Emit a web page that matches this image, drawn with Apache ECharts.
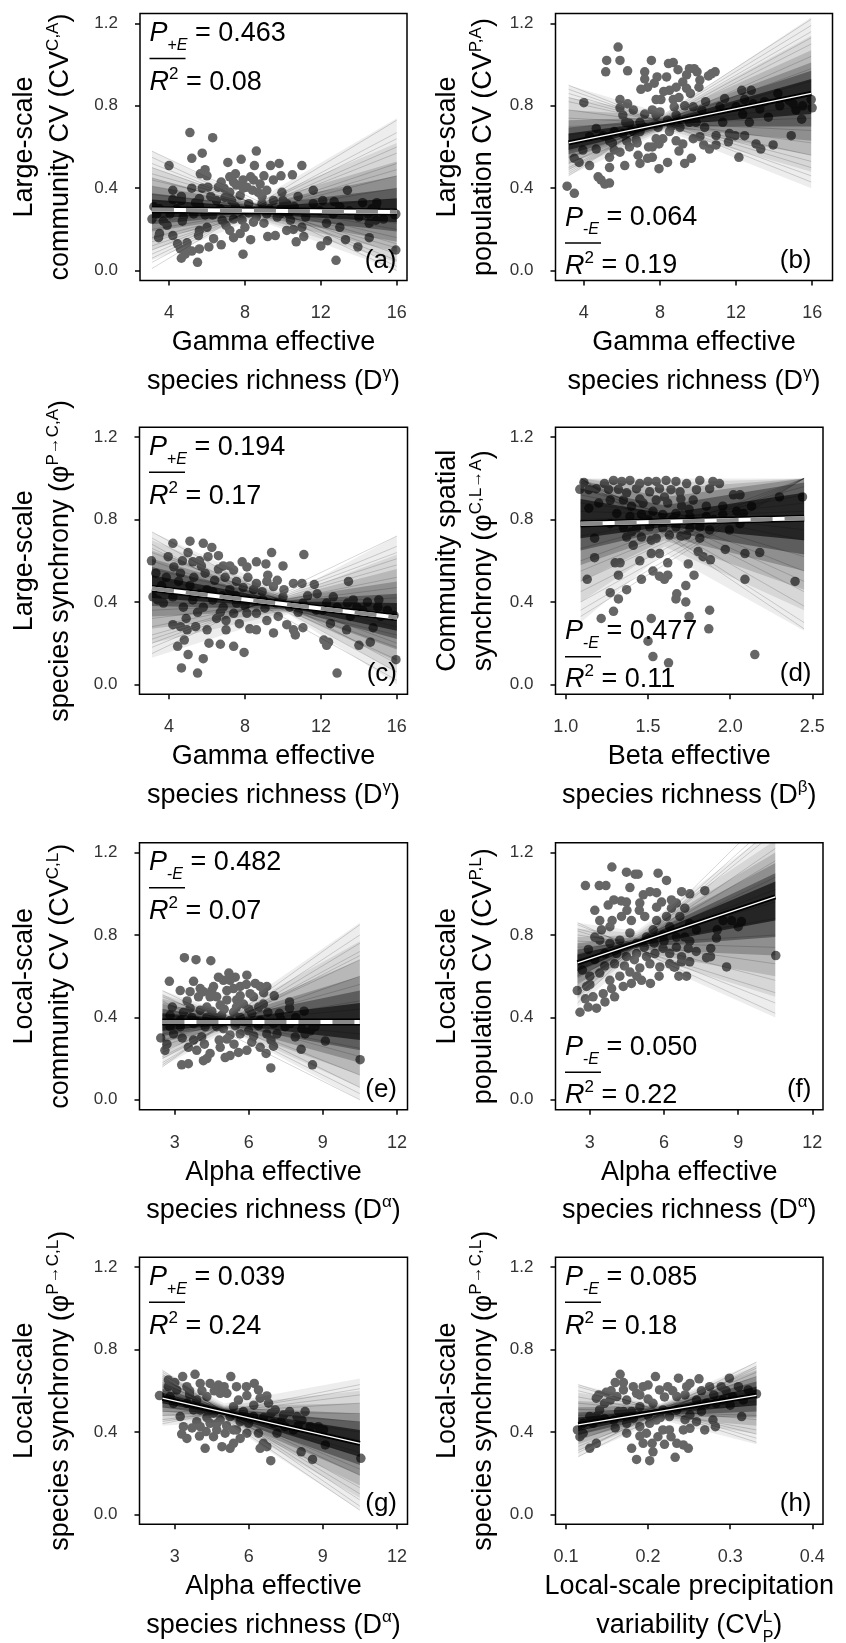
<!DOCTYPE html>
<html><head><meta charset="utf-8">
<script src="https://cdn.jsdelivr.net/npm/echarts@6/dist/echarts.min.js"></script>
<style>html,body{margin:0;padding:0;background:#fff}#c{width:846px;height:1643px}</style>
</head><body><div id="c"></div>
<script>
// ---------------- DATA ----------------
const ticksGamma = [4, 8, 12, 16];
const ticksBeta = [1.0, 1.5, 2.0, 2.5];
const ticksAlpha = [3, 6, 9, 12];
const ticksPrecip = [0.1, 0.2, 0.3, 0.4];
const yTicks = [0, 0.4, 0.8, 1.2];

const ptsA = [[5.1,0.67],[6.3,0.645],[4.0,0.51],[5.2,0.545],[5.75,0.57],[5.9,0.49],[5.75,0.40],[4.2,0.39],[5.2,0.40],[7.1,0.525],[7.8,0.54],[8.6,0.58],[8.5,0.51],[9.35,0.51],[9.8,0.52],[9.9,0.46],[10.5,0.465],[11.0,0.51],[11.6,0.39],[13.4,0.39],[12.7,0.335],[14.2,0.33],[14.95,0.33],[14.7,0.30],[15.9,0.27],[14.9,0.245],[14.55,0.23],[14.55,0.16],[13.95,0.115],[15.95,0.10],[12.8,0.05],[12.0,0.12],[12.35,0.145],[13.3,0.15],[13.0,0.21],[12.3,0.23],[11.1,0.165],[10.7,0.14],[10.55,0.2],[11.0,0.21],[10.4,0.245],[9.6,0.17],[9.2,0.165],[8.3,0.15],[7.9,0.08],[7.2,0.195],[7.4,0.16],[7.75,0.18],[8.0,0.21],[6.75,0.125],[6.35,0.155],[6.1,0.115],[5.6,0.105],[5.5,0.04],[4.65,0.06],[4.85,0.08],[5.0,0.10],[5.2,0.095],[4.6,0.105],[4.45,0.13],[4.95,0.135],[4.2,0.17],[3.45,0.16],[3.5,0.18],[3.1,0.25],[3.7,0.24],[4.7,0.24],[3.5,0.30],[4.2,0.345],[4.65,0.36],[5.6,0.35],[6.05,0.405],[6.6,0.405],[6.75,0.43],[7.2,0.455],[7.4,0.43],[7.55,0.415],[7.9,0.44],[8.1,0.405],[8.45,0.44],[8.8,0.42],[8.7,0.38],[9.15,0.39],[7.75,0.365],[7.2,0.38],[6.95,0.355],[6.5,0.34],[9.95,0.38],[10.0,0.34],[10.2,0.325],[9.5,0.34],[8.9,0.325],[8.2,0.325],[7.5,0.31],[6.7,0.30],[5.6,0.315],[4.65,0.34],[11.6,0.325],[11.95,0.29],[12.65,0.275],[13.5,0.29],[11.2,0.26],[9.7,0.26],[9.15,0.275],[8.6,0.26],[8.45,0.235],[7.85,0.245],[7.4,0.25],[6.8,0.245],[6.0,0.21],[5.6,0.195],[5.55,0.17],[5.3,0.275],[4.75,0.26],[4.05,0.275],[3.35,0.275],[3.2,0.31],[10.2,0.195],[9.85,0.275],[10.3,0.275],[14.5,0.275],[15.3,0.25],[14.0,0.26],[14.9,0.31],[15.95,0.275],[6.0,0.46],[5.65,0.47],[7.5,0.47],[8.3,0.455],[9.0,0.46],[9.5,0.44],[5.4,0.33],[6.2,0.36],[6.9,0.40],[7.3,0.34],[7.9,0.40],[8.4,0.39],[8.9,0.36],[9.3,0.30],[9.9,0.30],[10.6,0.31],[6.3,0.27],[7.0,0.22],[8.2,0.28],[9.0,0.23],[10.8,0.36],[4.4,0.30],[3.9,0.22],[5.9,0.27],[12.1,0.34],[13.0,0.31]];
const ptsB = [[3.12,0.41],[3.5,0.375],[4.0,0.815],[5.2,1.02],[5.8,1.085],[5.9,1.02],[5.15,0.965],[6.3,0.97],[5.9,0.83],[5.9,0.79],[6.05,0.755],[6.3,0.81],[7.2,0.965],[7.55,1.02],[7.2,0.93],[7.35,0.89],[7.85,0.94],[8.35,0.94],[8.45,1.005],[8.7,1.01],[8.95,0.975],[9.4,0.95],[9.55,0.98],[9.8,0.98],[9.95,0.965],[10.1,0.925],[9.2,0.915],[8.85,0.89],[8.5,0.875],[9.4,0.885],[10.05,0.89],[10.55,0.945],[10.9,0.965],[10.7,0.955],[8.7,0.83],[8.05,0.83],[7.8,0.83],[7.6,0.78],[8.75,0.795],[9.3,0.8],[9.75,0.795],[10.2,0.78],[8.4,0.73],[8.85,0.755],[7.2,0.76],[6.95,0.72],[6.6,0.675],[6.25,0.63],[5.9,0.575],[5.35,0.55],[5.35,0.50],[6.15,0.51],[6.85,0.56],[6.95,0.52],[7.6,0.55],[7.35,0.545],[7.95,0.495],[8.4,0.525],[9.3,0.52],[9.65,0.545],[7.4,0.6],[7.6,0.6],[7.95,0.615],[8.15,0.64],[10.1,0.65],[10.35,0.695],[10.6,0.59],[10.95,0.61],[10.95,0.655],[11.65,0.665],[11.6,0.625],[11.95,0.655],[12.45,0.655],[12.15,0.55],[13.05,0.615],[13.3,0.59],[13.95,0.61],[14.9,0.655],[15.45,0.735],[15.95,0.83],[16.0,0.79],[15.5,0.8],[14.8,0.825],[14.2,0.86],[13.7,0.745],[13.25,0.785],[12.8,0.875],[12.3,0.875],[12.45,0.83],[12.0,0.795],[11.4,0.835],[11.15,0.795],[12.35,0.76],[12.9,0.81],[14.3,0.80],[15.0,0.81],[15.15,0.78],[3.95,0.585],[3.75,0.525],[4.3,0.51],[4.75,0.455],[4.9,0.44],[5.1,0.42],[5.35,0.425],[4.65,0.69],[4.3,0.65],[5.0,0.655],[5.35,0.63],[5.6,0.675],[6.05,0.665],[6.4,0.715],[6.95,0.675],[7.9,0.695],[8.5,0.675],[9.05,0.695],[9.55,0.72],[9.75,0.64],[9.2,0.615],[8.85,0.63],[5.6,0.585],[6.4,0.6],[6.75,0.635],[7.8,0.755],[4.65,0.59],[3.5,0.545],[7.0,0.88],[7.7,0.91],[8.2,0.87],[9.0,0.84],[9.6,0.86],[8.0,0.77],[8.6,0.70],[9.9,0.72],[10.4,0.82],[7.1,0.70],[6.6,0.78],[6.2,0.72],[5.5,0.62],[6.8,0.62],[7.8,0.64],[9.0,0.58],[10.3,0.61],[11.3,0.72],[12.7,0.72],[13.5,0.82]];
const ptsC = [[3.07,0.6],[3.95,0.62],[4.2,0.685],[5.1,0.695],[5.8,0.685],[6.25,0.665],[5.0,0.64],[5.25,0.595],[5.7,0.575],[6.05,0.62],[6.6,0.625],[6.85,0.575],[7.2,0.575],[7.4,0.555],[7.85,0.595],[8.1,0.57],[8.6,0.595],[9.1,0.585],[9.4,0.64],[10.0,0.575],[11.1,0.63],[10.55,0.49],[11.0,0.49],[11.65,0.485],[13.45,0.5],[15.05,0.41],[15.85,0.335],[15.95,0.12],[12.85,0.055],[14.0,0.19],[14.6,0.205],[14.75,0.275],[13.35,0.265],[12.5,0.295],[12.15,0.215],[12.4,0.205],[12.3,0.19],[11.05,0.275],[10.65,0.24],[10.55,0.265],[10.2,0.29],[9.5,0.25],[9.75,0.33],[9.15,0.31],[8.6,0.265],[8.25,0.27],[7.7,0.295],[7.95,0.155],[7.4,0.185],[6.7,0.195],[6.1,0.2],[5.8,0.125],[5.0,0.145],[4.8,0.215],[4.45,0.185],[4.65,0.08],[5.5,0.055],[5.4,0.28],[4.95,0.265],[4.6,0.28],[4.2,0.29],[4.9,0.32],[6.0,0.265],[6.5,0.32],[7.0,0.31],[7.0,0.265],[7.4,0.345],[8.1,0.345],[8.6,0.345],[9.05,0.37],[3.15,0.425],[3.4,0.41],[3.7,0.395],[4.2,0.425],[4.75,0.375],[5.25,0.41],[5.8,0.375],[6.3,0.41],[6.85,0.375],[7.55,0.395],[8.1,0.41],[8.95,0.41],[9.65,0.395],[10.0,0.425],[10.35,0.375],[11.05,0.395],[11.75,0.36],[12.3,0.395],[12.85,0.375],[13.4,0.395],[13.9,0.375],[14.45,0.40],[15.0,0.375],[15.5,0.36],[15.15,0.33],[13.55,0.33],[3.85,0.52],[3.3,0.54],[4.25,0.57],[4.6,0.54],[5.3,0.52],[5.9,0.54],[6.4,0.505],[6.95,0.52],[7.55,0.5],[8.15,0.52],[8.6,0.49],[9.15,0.5],[9.5,0.475],[9.7,0.505],[10.05,0.46],[8.45,0.46],[7.2,0.46],[6.0,0.46],[11.8,0.44],[12.65,0.425],[13.7,0.41],[4.5,0.5],[5.1,0.48],[5.6,0.44],[6.3,0.45],[6.8,0.43],[7.5,0.43],[7.9,0.47],[8.9,0.45],[9.2,0.53],[6.6,0.56],[5.6,0.60],[4.7,0.6],[3.6,0.48],[5.5,0.35],[6.7,0.35],[8.0,0.38],[11.3,0.43],[12.1,0.36],[14.2,0.36],[10.8,0.35]];
const ptsD = [[1.085,0.947],[1.11,0.98],[1.14,0.945],[1.14,0.855],[1.175,0.71],[1.175,0.615],[1.13,0.51],[1.185,0.95],[1.235,0.975],[1.29,0.99],[1.34,0.985],[1.39,0.99],[1.45,0.975],[1.5,0.985],[1.55,0.985],[1.61,0.99],[1.67,0.985],[1.735,0.975],[1.815,0.99],[1.895,0.985],[1.935,0.975],[1.26,0.947],[1.32,0.947],[1.37,0.93],[1.43,0.95],[1.51,0.935],[1.57,0.95],[1.64,0.945],[1.695,0.935],[1.795,0.945],[1.875,0.95],[2.02,0.92],[2.06,0.92],[2.3,0.91],[2.44,0.91],[2.13,0.865],[1.27,0.895],[1.35,0.895],[1.4,0.865],[1.47,0.88],[1.55,0.895],[1.62,0.88],[1.705,0.865],[1.775,0.895],[1.855,0.865],[1.955,0.865],[2.04,0.84],[1.31,0.83],[1.39,0.815],[1.46,0.825],[1.53,0.84],[1.59,0.825],[1.67,0.83],[1.755,0.815],[1.855,0.815],[1.955,0.825],[2.08,0.83],[1.27,0.78],[1.35,0.76],[1.43,0.76],[1.51,0.765],[1.59,0.76],[1.67,0.765],[1.755,0.76],[1.815,0.765],[1.875,0.75],[1.37,0.715],[1.46,0.715],[1.55,0.71],[1.63,0.725],[1.735,0.725],[1.815,0.71],[1.41,0.675],[1.52,0.7],[1.97,0.655],[2.09,0.635],[2.18,0.64],[1.3,0.59],[1.33,0.59],[1.32,0.53],[1.37,0.46],[1.45,0.6],[1.52,0.635],[1.57,0.635],[1.62,0.59],[1.805,0.645],[1.835,0.62],[1.88,0.605],[1.745,0.585],[1.53,0.55],[1.57,0.525],[1.62,0.53],[1.6,0.51],[1.46,0.51],[1.78,0.53],[1.73,0.48],[1.675,0.44],[1.67,0.415],[1.73,0.4],[1.75,0.33],[1.875,0.36],[1.87,0.27],[1.52,0.32],[1.5,0.21],[1.53,0.135],[1.625,0.105],[1.27,0.445],[1.32,0.415],[1.29,0.355],[1.215,0.32],[2.09,0.51],[2.395,0.5],[2.15,0.145],[1.995,0.75],[2.06,0.78],[1.45,0.90],[1.6,0.91],[1.7,0.9],[1.75,0.85],[1.65,0.8],[1.5,0.8],[1.4,0.74],[1.7,0.72],[1.9,0.8],[1.2,0.88]];
const ptsE = [[2.43,0.30],[2.78,0.575],[2.6,0.24],[2.68,0.27],[2.81,0.41],[3.28,0.17],[3.55,0.175],[3.39,0.69],[3.86,0.68],[4.46,0.675],[3.22,0.53],[3.62,0.525],[3.76,0.575],[3.96,0.5],[4.16,0.525],[4.43,0.5],[4.57,0.55],[4.77,0.595],[4.97,0.58],[5.19,0.615],[5.45,0.595],[5.92,0.605],[6.26,0.565],[6.46,0.55],[6.73,0.55],[6.05,0.515],[6.19,0.5],[7.03,0.505],[7.65,0.475],[7.65,0.445],[7.24,0.42],[6.77,0.425],[6.59,0.465],[5.78,0.465],[5.51,0.485],[5.11,0.485],[4.84,0.46],[4.3,0.45],[4.03,0.435],[3.62,0.445],[3.35,0.425],[4.64,0.4],[5.24,0.385],[5.65,0.4],[6.12,0.42],[6.46,0.385],[5.38,0.425],[8.24,0.43],[7.88,0.305],[8.15,0.345],[8.28,0.32],[8.49,0.335],[8.69,0.355],[9.1,0.285],[8.12,0.245],[8.58,0.17],[10.51,0.195],[6.89,0.155],[7.0,0.26],[6.7,0.225],[6.46,0.255],[6.12,0.28],[5.92,0.24],[5.58,0.23],[5.24,0.215],[5.04,0.205],[4.84,0.255],[4.43,0.225],[4.16,0.19],[4.3,0.2],[3.89,0.24],[3.55,0.255],[3.76,0.29],[4.09,0.305],[5.11,0.295],[5.24,0.315],[5.65,0.32],[5.99,0.335],[6.73,0.32],[7.14,0.32],[7.47,0.355],[3.22,0.355],[2.95,0.32],[2.81,0.355],[3.22,0.385],[3.76,0.37],[4.23,0.355],[4.7,0.355],[4.97,0.345],[5.45,0.36],[6.39,0.36],[7.0,0.37],[7.68,0.37],[8.62,0.37],[4.3,0.4],[3.69,0.4],[4.7,0.5],[5.11,0.53],[5.38,0.54],[5.65,0.55],[5.24,0.58],[4.03,0.54],[5.65,0.505],[3.9,0.38],[4.5,0.43],[5.0,0.44],[5.5,0.45],[6.0,0.44],[6.4,0.45],[4.9,0.41],[3.3,0.30],[4.2,0.27],[4.8,0.29],[5.4,0.27],[6.2,0.31],[6.9,0.29],[7.3,0.39],[7.9,0.40],[4.5,0.53],[5.9,0.56],[6.6,0.52],[3.5,0.48],[2.9,0.45]];
const ptsF = [[2.49,0.53],[2.6,0.425],[2.82,0.49],[2.82,1.04],[3.38,1.04],[3.65,1.04],[3.89,1.13],[4.48,1.105],[4.83,1.095],[4.95,1.095],[5.76,1.1],[6.1,1.065],[4.62,1.03],[3.2,0.92],[3.74,0.945],[3.97,0.97],[4.27,0.965],[4.48,0.96],[5.16,0.995],[5.43,1.01],[5.7,1.005],[5.02,0.955],[5.7,0.935],[6.3,0.97],[6.71,1.01],[7.04,1.0],[7.65,1.015],[6.5,0.955],[6.84,0.93],[3.4,0.87],[3.81,0.84],[3.47,0.825],[4.28,0.89],[4.68,0.87],[5.22,0.89],[5.7,0.87],[6.1,0.89],[6.64,0.89],[7.04,0.855],[3.4,0.775],[3.2,0.79],[3.81,0.76],[4.21,0.775],[4.62,0.81],[4.89,0.76],[5.29,0.79],[5.56,0.825],[5.96,0.8],[6.23,0.84],[6.5,0.79],[6.84,0.79],[6.98,0.735],[6.71,0.695],[6.23,0.71],[5.96,0.735],[5.63,0.71],[5.29,0.695],[4.89,0.71],[4.48,0.695],[4.08,0.71],[3.61,0.71],[2.94,0.73],[2.7,0.63],[3.0,0.6],[3.4,0.615],[3.81,0.58],[4.21,0.6],[4.62,0.62],[5.02,0.64],[5.43,0.66],[5.83,0.645],[6.23,0.66],[6.44,0.645],[6.71,0.67],[7.04,0.67],[6.91,0.6],[6.4,0.645],[5.45,0.565],[5.09,0.58],[4.68,0.565],[4.35,0.55],[3.88,0.54],[3.54,0.515],[3.13,0.5],[2.93,0.45],[3.27,0.445],[3.61,0.475],[2.87,0.55],[7.72,0.69],[7.89,0.735],[8.15,0.825],[8.12,0.785],[8.39,0.87],[8.73,0.87],[9.0,0.84],[9.13,0.865],[8.53,0.645],[7.88,0.695],[10.52,0.7],[7.04,0.77],[7.31,0.825],[3.6,0.65],[4.0,0.66],[4.4,0.65],[4.8,0.68],[5.2,0.74],[5.6,0.76],[6.0,0.77],[6.5,0.74],[3.9,0.87],[4.5,0.92],[5.0,0.92],[5.9,0.96],[6.3,0.93],[3.2,0.68],[3.0,0.56],[4.0,0.50],[4.9,0.60],[5.8,0.60],[6.6,0.60],[7.3,0.72]];
const ptsG = [[2.38,0.577],[2.74,0.653],[3.32,0.669],[3.82,0.68],[2.74,0.62],[3.08,0.604],[3.49,0.62],[4.03,0.636],[4.43,0.636],[4.77,0.628],[5.27,0.669],[6.22,0.636],[6.39,0.604],[5.92,0.577],[6.73,0.575],[6.8,0.54],[6.46,0.564],[5.58,0.555],[5.11,0.588],[4.84,0.588],[4.3,0.572],[3.89,0.555],[3.49,0.539],[3.22,0.475],[3.35,0.426],[3.28,0.39],[3.49,0.369],[3.89,0.45],[4.03,0.426],[4.27,0.402],[4.23,0.321],[4.57,0.377],[4.91,0.329],[5.24,0.321],[5.38,0.345],[5.65,0.369],[5.92,0.394],[5.99,0.442],[5.38,0.41],[5.04,0.394],[4.7,0.41],[4.43,0.442],[4.84,0.458],[5.24,0.475],[5.65,0.45],[4.57,0.491],[4.3,0.507],[5.38,0.523],[5.78,0.499],[6.19,0.475],[6.39,0.394],[6.59,0.345],[6.46,0.321],[6.73,0.329],[6.89,0.261],[7.0,0.442],[7.07,0.507],[7.41,0.483],[7.65,0.499],[7.95,0.475],[8.28,0.499],[8.15,0.458],[8.49,0.426],[8.82,0.426],[9.03,0.41],[8.12,0.304],[8.58,0.267],[9.1,0.337],[10.54,0.272],[7.14,0.394],[7.47,0.426],[7.81,0.41],[2.81,0.572],[2.95,0.539],[3.76,0.507],[4.03,0.507],[3.0,0.64],[3.6,0.60],[4.1,0.60],[4.6,0.60],[5.0,0.62],[5.5,0.62],[5.9,0.62],[4.3,0.47],[4.7,0.44],[5.1,0.43],[5.5,0.41],[5.9,0.47],[3.7,0.42],[4.0,0.38],[3.6,0.58],[6.6,0.47],[7.3,0.45],[8.0,0.43],[6.2,0.53],[6.9,0.49]];
const ptsH = [[0.114,0.41],[0.117,0.377],[0.121,0.394],[0.129,0.321],[0.137,0.345],[0.133,0.442],[0.137,0.475],[0.141,0.507],[0.137,0.564],[0.149,0.593],[0.16,0.64],[0.166,0.68],[0.154,0.555],[0.162,0.572],[0.17,0.604],[0.174,0.555],[0.182,0.62],[0.186,0.588],[0.194,0.62],[0.2,0.628],[0.209,0.669],[0.214,0.604],[0.224,0.62],[0.237,0.661],[0.247,0.62],[0.251,0.636],[0.262,0.658],[0.275,0.62],[0.289,0.62],[0.299,0.661],[0.31,0.62],[0.322,0.604],[0.332,0.585],[0.314,0.475],[0.147,0.466],[0.158,0.458],[0.164,0.499],[0.174,0.442],[0.174,0.394],[0.18,0.321],[0.186,0.267],[0.202,0.261],[0.194,0.345],[0.206,0.304],[0.205,0.345],[0.212,0.377],[0.198,0.394],[0.19,0.426],[0.182,0.466],[0.202,0.442],[0.21,0.458],[0.218,0.41],[0.226,0.41],[0.226,0.475],[0.228,0.377],[0.235,0.345],[0.233,0.277],[0.243,0.337],[0.249,0.321],[0.243,0.41],[0.251,0.418],[0.259,0.45],[0.251,0.483],[0.235,0.507],[0.218,0.507],[0.206,0.539],[0.19,0.523],[0.269,0.41],[0.279,0.458],[0.282,0.426],[0.271,0.539],[0.283,0.539],[0.291,0.555],[0.303,0.572],[0.316,0.555],[0.147,0.539],[0.17,0.499],[0.235,0.572],[0.259,0.555],[0.121,0.442],[0.129,0.475],[0.14,0.58],[0.155,0.6],[0.17,0.64],[0.19,0.58],[0.2,0.56],[0.22,0.57],[0.23,0.60],[0.245,0.58],[0.265,0.6],[0.28,0.58],[0.295,0.6],[0.3,0.53],[0.18,0.5],[0.2,0.48],[0.215,0.47],[0.245,0.46],[0.265,0.5],[0.19,0.38],[0.22,0.34],[0.16,0.42]];

// posterior mean regression lines [[x0,y0],[x1,y1]]
const meanA = [[3.1,0.296],[16.0,0.285]];
const meanB = [[3.2,0.62],[15.95,0.86]];
const meanC = [[3.1,0.466],[16.0,0.325]];
const meanD = [[1.09,0.78],[2.45,0.806]];
const meanE = [[2.5,0.378],[10.5,0.378]];
const meanF = [[2.5,0.665],[10.5,0.985]];
const meanG = [[2.5,0.564],[10.5,0.345]];
const meanH = [[0.115,0.435],[0.332,0.578]];

// x positions of posterior fan: [left, pivot, right]
const fanXA = [3.1, 8.5, 16.0];
const fanXB = [3.2, 8.3, 15.95];
const fanXC = [3.1, 10.3, 16.0];
const fanXD = [1.09, 1.6, 2.45];
const fanXE = [2.5, 5.2, 10.5];
const fanXF = [2.5, 4.9, 10.5];
const fanXG = [2.5, 5.0, 10.5];
const fanXH = [0.115, 0.215, 0.332];

// posterior envelopes (outer to inner): [leftLo, leftHi, pivotLo, pivotHi, rightLo, rightHi]
const bandA = [[0.05,0.58,0.25,0.335,0.0,0.74],[0.10,0.50,0.255,0.33,0.04,0.62],[0.15,0.45,0.26,0.325,0.09,0.53],[0.19,0.41,0.265,0.32,0.14,0.46],[0.225,0.375,0.27,0.315,0.19,0.40],[0.255,0.345,0.275,0.31,0.235,0.35]];
const bandB = [[0.46,0.90,0.68,0.76,0.40,1.23],[0.49,0.84,0.685,0.755,0.48,1.14],[0.52,0.78,0.69,0.75,0.56,1.07],[0.545,0.73,0.695,0.745,0.63,1.01],[0.565,0.695,0.70,0.74,0.70,0.97],[0.585,0.665,0.705,0.73,0.76,0.93]];
const bandC = [[0.13,0.74,0.34,0.44,0.0,0.72],[0.20,0.70,0.35,0.43,0.06,0.63],[0.27,0.65,0.355,0.425,0.11,0.56],[0.33,0.61,0.36,0.42,0.17,0.50],[0.38,0.57,0.365,0.41,0.22,0.44],[0.42,0.53,0.372,0.402,0.26,0.395]];
const bandD = [[0.30,1.0,0.64,1.0,0.26,1.0],[0.40,1.0,0.67,0.98,0.36,1.0],[0.50,1.0,0.70,0.95,0.46,1.0],[0.58,0.99,0.72,0.91,0.55,1.0],[0.65,0.95,0.745,0.87,0.63,0.98],[0.71,0.90,0.765,0.83,0.70,0.93]];
const bandE = [[0.16,0.53,0.34,0.42,0.0,0.86],[0.20,0.51,0.345,0.415,0.06,0.77],[0.24,0.49,0.35,0.41,0.12,0.68],[0.28,0.465,0.355,0.405,0.18,0.60],[0.31,0.44,0.36,0.40,0.24,0.53],[0.335,0.42,0.365,0.392,0.29,0.47]];
const bandF = [[0.45,0.86,0.70,0.82,0.40,1.32],[0.49,0.83,0.71,0.81,0.50,1.26],[0.53,0.79,0.72,0.80,0.60,1.20],[0.565,0.76,0.73,0.79,0.70,1.15],[0.595,0.73,0.74,0.78,0.79,1.10],[0.625,0.705,0.745,0.775,0.87,1.06]];
const bandG = [[0.43,0.70,0.45,0.54,0.02,0.66],[0.455,0.68,0.46,0.53,0.08,0.60],[0.48,0.655,0.465,0.525,0.14,0.54],[0.50,0.635,0.47,0.52,0.19,0.49],[0.52,0.61,0.475,0.515,0.24,0.45],[0.54,0.59,0.482,0.51,0.28,0.41]];
const bandH = [[0.28,0.63,0.46,0.54,0.34,0.74],[0.31,0.59,0.465,0.535,0.39,0.72],[0.34,0.55,0.47,0.53,0.43,0.70],[0.365,0.52,0.475,0.525,0.47,0.67],[0.385,0.495,0.48,0.52,0.50,0.645],[0.405,0.47,0.488,0.512,0.53,0.62]];

// individual posterior draws: [yLeft, yRight]
const linesA = [[0.55,0.00],[0.50,0.08],[0.47,0.13],[0.44,0.16],[0.41,0.20],[0.37,0.23],[0.34,0.26],[0.30,0.29],[0.24,0.35],[0.20,0.40],[0.16,0.46],[0.12,0.52],[0.08,0.60],[0.04,0.67],[0.01,0.73],[0.58,0.02],[0.52,0.05],[0.45,0.11],[0.14,0.49],[0.10,0.57],[0.06,0.64]];
const linesB = [[0.90,0.43],[0.86,0.50],[0.82,0.56],[0.78,0.62],[0.74,0.68],[0.70,0.74],[0.66,0.80],[0.62,0.86],[0.58,0.92],[0.55,0.98],[0.52,1.04],[0.50,1.10],[0.48,1.16],[0.46,1.22],[0.88,0.46],[0.84,0.53],[0.49,1.13],[0.47,1.19]];
const linesC = [[0.74,0.10],[0.68,0.02],[0.64,0.20],[0.60,0.18],[0.56,0.28],[0.52,0.24],[0.48,0.33],[0.44,0.37],[0.40,0.36],[0.36,0.42],[0.32,0.47],[0.28,0.52],[0.24,0.58],[0.20,0.64],[0.15,0.72],[0.71,0.06],[0.66,0.12],[0.18,0.67],[0.22,0.61]];
const linesD = [[1.0,0.30],[1.0,0.45],[0.98,0.55],[0.95,0.62],[0.92,0.70],[0.88,0.75],[0.84,0.80],[0.80,0.84],[0.76,0.88],[0.72,0.92],[0.66,0.96],[0.60,1.0],[0.50,1.0],[0.40,1.0],[0.33,1.0],[1.0,0.38],[1.0,0.27],[0.99,0.50],[0.45,1.0],[0.36,1.0],[0.55,1.0]];
const linesE = [[0.53,0.06],[0.50,0.12],[0.47,0.21],[0.44,0.25],[0.41,0.32],[0.38,0.38],[0.35,0.44],[0.32,0.48],[0.29,0.56],[0.26,0.60],[0.23,0.68],[0.20,0.72],[0.17,0.80],[0.16,0.85],[0.48,0.0],[0.51,0.03],[0.18,0.76],[0.21,0.70]];
const linesF = [[0.86,0.42],[0.83,0.58],[0.80,0.66],[0.77,0.74],[0.74,0.80],[0.71,0.88],[0.68,0.96],[0.65,1.02],[0.62,1.08],[0.59,1.16],[0.56,1.22],[0.53,1.30],[0.50,1.36],[0.47,1.42],[0.85,0.47],[0.82,0.52],[0.51,1.33]];
const linesG = [[0.70,0.04],[0.68,0.10],[0.66,0.13],[0.64,0.19],[0.62,0.22],[0.60,0.28],[0.58,0.30],[0.56,0.36],[0.54,0.40],[0.52,0.45],[0.50,0.49],[0.48,0.54],[0.46,0.58],[0.44,0.63],[0.69,0.07],[0.67,0.02],[0.45,0.61]];
const linesH = [[0.63,0.35],[0.60,0.39],[0.57,0.41],[0.54,0.46],[0.51,0.48],[0.48,0.53],[0.45,0.55],[0.42,0.60],[0.39,0.62],[0.36,0.67],[0.33,0.69],[0.30,0.74],[0.28,0.72],[0.62,0.37],[0.31,0.71]];

// statistics text
const pSubs = ['+','-','+','-','-','-','+','-'];
const pVals = ['0.463','0.064','0.194','0.477','0.482','0.050','0.039','0.085'];
const r2Vals = ['0.08','0.19','0.17','0.11','0.07','0.22','0.24','0.18'];
const panelLabels = ['(a)','(b)','(c)','(d)','(e)','(f)','(g)','(h)'];

// ---------------- LAYOUT / STYLE ----------------
const FONT = "'Liberation Sans', Arial, Helvetica, sans-serif";
const yRange = [-0.048, 1.248];
const P = [
  {pts:ptsA, mean:meanA, fx:fanXA, band:bandA, fan:linesA, sig:false, box:[140,13.5,267,267], xr:[2.47,16.54], xt:ticksGamma, xd:0, pos:'top', labIn:10.5,
   yl:['Large-scale','community CV (CV','C,A'], xl:['Gamma effective','species richness (D','γ']},
  {pts:ptsB, mean:meanB, fx:fanXB, band:bandB, fan:linesB, sig:true, box:[555.5,13.5,277,267], xr:[2.51,17.07], xt:ticksGamma, xd:0, pos:'bottom', labIn:21,
   yl:['Large-scale','population CV (CV','P,A'], xl:['Gamma effective','species richness (D','γ']},
  {pts:ptsC, mean:meanC, fx:fanXC, band:bandC, fan:linesC, sig:false, box:[139.5,427.3,268,267], xr:[2.44,16.56], xt:ticksGamma, xd:0, pos:'top', labIn:10.5,
   yl:['Large-scale','species synchrony (φ','P→C,A'], xl:['Gamma effective','species richness (D','γ']},
  {pts:ptsD, mean:meanD, fx:fanXD, band:bandD, fan:linesD, sig:false, box:[555.5,427.3,267.5,267], xr:[0.937,2.565], xt:ticksBeta, xd:1, pos:'bottom', labIn:11.5,
   yl:['Community spatial','synchrony (φ','C,L→A'], xl:['Beta effective','species richness (D','β']},
  {pts:ptsE, mean:meanE, fx:fanXE, band:bandE, fan:linesE, sig:false, box:[139.5,842.7,268,267], xr:[1.57,12.43], xt:ticksAlpha, xd:0, pos:'top', labIn:10.5,
   yl:['Local-scale','community CV (CV','C,L'], xl:['Alpha effective','species richness (D','α']},
  {pts:ptsF, mean:meanF, fx:fanXF, band:bandF, fan:linesF, sig:true, box:[555.5,842.7,267.5,267], xr:[1.61,12.43], xt:ticksAlpha, xd:0, pos:'bottom', labIn:11.5,
   yl:['Local-scale','population CV (CV','P,L'], xl:['Alpha effective','species richness (D','α']},
  {pts:ptsG, mean:meanG, fx:fanXG, band:bandG, fan:linesG, sig:true, box:[139.5,1257.3,268,267], xr:[1.57,12.43], xt:ticksAlpha, xd:0, pos:'top', labIn:10.5,
   yl:['Local-scale','species synchrony (φ','P→C,L'], xl:['Alpha effective','species richness (D','α']},
  {pts:ptsH, mean:meanH, fx:fanXH, band:bandH, fan:linesH, sig:true, box:[555.5,1257.3,267.5,267], xr:[0.0873,0.413], xt:ticksPrecip, xd:1, pos:'top', labIn:11.5,
   yl:['Local-scale','species synchrony (φ','P→C,L'], xl:['Local-scale precipitation','variability (CV','L','P']}
];
const bandOpacity = [0.07, 0.09, 0.14, 0.22, 0.35, 0.6];

const rich = {
  m:  {fontSize:27, fontFamily:FONT, lineHeight:36, fill:'#000', align:'left'},
  i:  {fontSize:27, fontFamily:FONT, fontStyle:'italic', lineHeight:36, fill:'#000', align:'left'},
  sb: {fontSize:16, fontFamily:FONT, height:12, lineHeight:12, verticalAlign:'bottom', fill:'#000', align:'left'},
  sbi:{fontSize:16, fontFamily:FONT, fontStyle:'italic', height:12, lineHeight:12, verticalAlign:'bottom', fill:'#000', align:'left'},
  sp: {fontSize:17, fontFamily:FONT, height:20, lineHeight:20, verticalAlign:'top', fill:'#000', align:'left'},
  sp0:{fontSize:17, fontFamily:FONT, height:20, lineHeight:20, verticalAlign:'top', fill:'#000', align:'left', width:0},
  lb: {fontSize:26, fontFamily:FONT, lineHeight:36, fill:'#000', align:'left'}
};

function txt(x, y, text, align, rot) {
  const el = {type:'text', z:100, x:x, y:y,
    style:{text:text, rich:rich, fill:'#000', font:'27px ' + FONT,
      align:align, textAlign:align, verticalAlign:'middle', textVerticalAlign:'middle'}};
  if (rot) el.rotation = rot;
  return el;
}

const grid = [], xAxis = [], yAxis = [], series = [], graphic = [];
P.forEach((p, k) => {
  const [L, T, W, H] = p.box, B = T + H, R = L + W;
  grid.push({left:L, top:T, width:W, height:H, show:true, borderColor:'#000', borderWidth:1.5, backgroundColor:'rgba(0,0,0,0)'});
  xAxis.push({gridIndex:k, type:'value', min:p.xr[0], max:p.xr[1], position:'bottom',
    axisLine:{show:false, onZero:false}, splitLine:{show:false},
    axisTick:{show:true, inside:false, length:5, customValues:p.xt, lineStyle:{color:'#000', width:1.5}},
    axisLabel:{customValues:p.xt, formatter:v => Number(v).toFixed(p.xd), fontSize:18, color:'#333', margin:24, fontFamily:FONT}});
  yAxis.push({gridIndex:k, type:'value', min:yRange[0], max:yRange[1], position:'left',
    axisLine:{show:false, onZero:false}, splitLine:{show:false},
    axisTick:{show:true, inside:false, length:5, customValues:yTicks, lineStyle:{color:'#000', width:1.5}},
    axisLabel:{customValues:yTicks, formatter:v => Number(v).toFixed(1), fontSize:17, color:'#333', margin:22, fontFamily:FONT}});

  series.push({type:'scatter', xAxisIndex:k, yAxisIndex:k, data:p.pts, symbolSize:9.5, silent:true, z:1,
    itemStyle:{color:'#666', opacity:1}});
  const fx = p.fx;
  series.push({type:'custom', xAxisIndex:k, yAxisIndex:k, data:p.band, clip:true, silent:true, z:2,
    renderItem:(params, api) => {
      const v = [0,1,2,3,4,5].map(d => api.value(d));
      const pts = [[fx[0],v[1]],[fx[1],v[3]],[fx[2],v[5]],[fx[2],v[4]],[fx[1],v[2]],[fx[0],v[0]]].map(q => api.coord(q));
      return {type:'polygon', shape:{points:pts}, style:{fill:'rgba(0,0,0,' + bandOpacity[params.dataIndex] + ')'}};
    }});
  series.push({type:'custom', xAxisIndex:k, yAxisIndex:k, data:p.fan, clip:true, silent:true, z:3,
    renderItem:(params, api) => {
      const a = api.coord([fx[0], api.value(0)]), b = api.coord([fx[2], api.value(1)]);
      return {type:'line', shape:{x1:a[0], y1:a[1], x2:b[0], y2:b[1]}, style:{stroke:'rgba(0,0,0,0.16)', lineWidth:1}};
    }});
  const mk = (w, c, type, z) => ({type:'line', xAxisIndex:k, yAxisIndex:k, data:p.mean, symbol:'none', silent:true, z:z,
    lineStyle:{width:w, color:c, type:type, cap:'butt'}});
  if (p.sig) {
    series.push(mk(5, '#000', 'solid', 4));
    series.push(mk(1.3, '#fff', 'solid', 5));
  } else {
    series.push(mk(7, '#000', 'solid', 4));
    series.push(mk(4, '#fff', 'solid', 5));
    series.push(mk(4, '#8a8a8a', [22, 12], 6));
  }

  // annotation
  const x0 = L + 9.5;
  let yP, yO, yR;
  if (p.pos === 'top') { yP = T + 20; yO = T + 45; yR = T + 69; }
  else { yP = B - 62.5; yO = B - 37.5; yR = B - 14.5; }
  graphic.push(txt(x0, yP, '{i|P}{sb|' + pSubs[k] + '}{sbi|E}{m| = ' + pVals[k] + '}', 'left'));
  graphic.push({type:'line', z:100, shape:{x1:x0, y1:yO, x2:x0 + 36, y2:yO}, style:{stroke:'#000', lineWidth:1.5}});
  graphic.push(txt(x0, yR, '{i|R}{sp|2}{m| = ' + r2Vals[k] + '}', 'left'));
  // panel label
  graphic.push(txt(R - p.labIn, B - 20, '{lb|' + panelLabels[k] + '}', 'right'));
  // x title
  const cx = L + W / 2;
  graphic.push(txt(cx, B + 62.5, '{m|' + p.xl[0] + '}', 'center'));
  if (p.xl.length === 4) {
    graphic.push(txt(cx, B + 101, '{m|' + p.xl[1] + '}{sp0|' + p.xl[2] + '}{sb|' + p.xl[3] + '}{m|)}', 'center'));
  } else {
    graphic.push(txt(cx, B + 101, '{m|' + p.xl[1] + '}{sp|' + p.xl[2] + '}{m|)}', 'center'));
  }
  // y title (rotated)
  const col = (k % 2) ? 423 : 0;
  const cy = T + H / 2;
  graphic.push(txt(col + 25, cy, '{m|' + p.yl[0] + '}', 'center', Math.PI / 2));
  graphic.push(txt(col + 61, cy, '{m|' + p.yl[1] + '}{sp|' + p.yl[2] + '}{m|)}', 'center', Math.PI / 2));
});

const chart = echarts.init(document.getElementById('c'), null, {renderer:'canvas', width:846, height:1643});
chart.setOption({animation:false, backgroundColor:'#fff', grid, xAxis, yAxis, series, graphic});
</script></body></html>
